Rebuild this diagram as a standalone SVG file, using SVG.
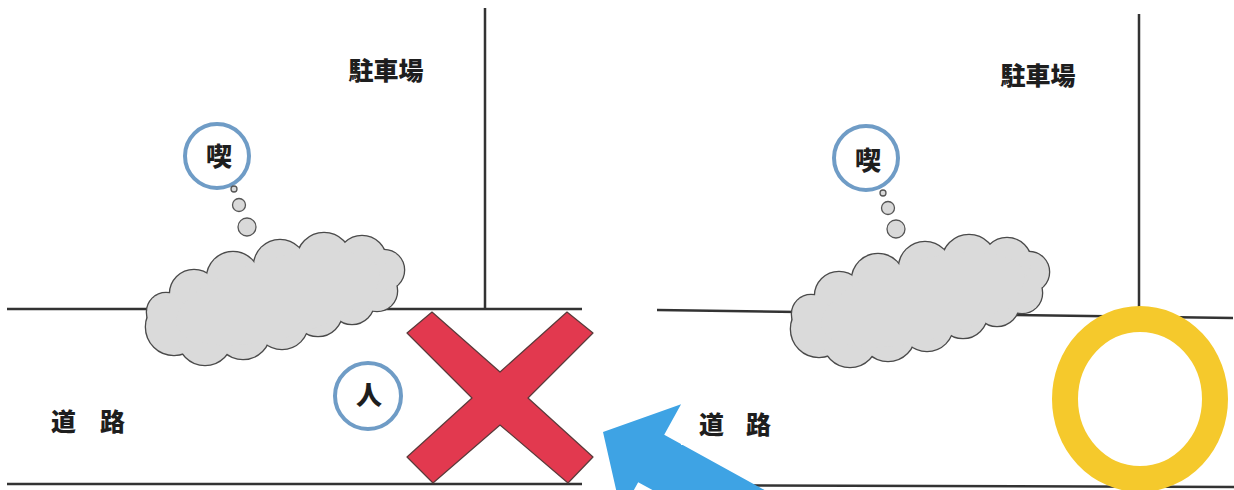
<svg xmlns="http://www.w3.org/2000/svg" xmlns:xlink="http://www.w3.org/1999/xlink" width="1234" height="490" viewBox="0 0 1234 490">
<style>
.ln{stroke:#333;stroke-width:2.5;fill:none}
.lbl{font-family:"Noto Sans CJK JP","Noto Sans CJK SC",sans-serif;font-weight:900;fill:#1e1e1e}
.ring{fill:none;stroke:#6f9cc6;stroke-width:4}
.bub{fill:#d9d9d9;stroke:#555;stroke-width:1.3}
.co{stroke:#4a4a4a;stroke-width:2.6;fill:#dadada}
.ci{fill:#dadada}
</style>
<defs>
<g id="cloudShape">
<g class="co">
<circle cx="174" cy="327" r="28"/><circle cx="205" cy="338" r="27"/><circle cx="243" cy="332" r="27"/>
<circle cx="282" cy="323" r="26"/><circle cx="318" cy="312" r="24"/><circle cx="352" cy="302" r="22"/>
<circle cx="377" cy="291" r="20"/><circle cx="384" cy="270" r="20"/><circle cx="362" cy="260" r="24"/>
<circle cx="324" cy="260" r="27"/><circle cx="280" cy="266" r="26"/><circle cx="233" cy="278" r="26"/>
<circle cx="194" cy="294" r="24"/><circle cx="166" cy="312" r="19"/>
</g>
<g class="ci">
<circle cx="174" cy="327" r="28"/><circle cx="205" cy="338" r="27"/><circle cx="243" cy="332" r="27"/>
<circle cx="282" cy="323" r="26"/><circle cx="318" cy="312" r="24"/><circle cx="352" cy="302" r="22"/>
<circle cx="377" cy="291" r="20"/><circle cx="384" cy="270" r="20"/><circle cx="362" cy="260" r="24"/>
<circle cx="324" cy="260" r="27"/><circle cx="280" cy="266" r="26"/><circle cx="233" cy="278" r="26"/>
<circle cx="194" cy="294" r="24"/><circle cx="166" cy="312" r="19"/>
<ellipse cx="278" cy="298" rx="105" ry="40" transform="rotate(-15 278 298)"/>
</g>
</g>
</defs>

<rect width="1234" height="490" fill="#fff"/>

<g id="lines">
<line class="ln" x1="7" y1="309" x2="582" y2="309"/>
<line class="ln" x1="485" y1="8" x2="485" y2="309"/>
<line class="ln" x1="7" y1="484" x2="582" y2="484"/>
<line class="ln" x1="657" y1="310" x2="1233" y2="318"/>
<line class="ln" x1="1139" y1="14" x2="1139" y2="315"/>
<line class="ln" x1="650" y1="485" x2="1234" y2="487"/>
</g>

<g id="parking-left"><text class="lbl" x="386" y="80" font-size="25" text-anchor="middle">駐車場</text></g>
<g id="parking-right"><text class="lbl" x="1038" y="85" font-size="25" text-anchor="middle">駐車場</text></g>

<g id="cloud-left"><use xlink:href="#cloudShape"/></g>
<g id="cloud-right"><use xlink:href="#cloudShape" transform="translate(645,2)"/></g>

<g id="think-left">
<circle class="ring" cx="217" cy="156" r="32"/>
<text class="lbl" x="219" y="166" font-size="26" text-anchor="middle">喫</text>
<circle class="bub" cx="234" cy="189" r="3"/>
<circle class="bub" cx="239" cy="205" r="6.5"/>
<circle class="bub" cx="247" cy="227" r="9"/>
</g>
<g id="think-right">
<circle class="ring" cx="866" cy="158" r="32"/>
<text class="lbl" x="868" y="170" font-size="26" text-anchor="middle">喫</text>
<circle class="bub" cx="883" cy="193" r="3"/>
<circle class="bub" cx="888" cy="208" r="6.5"/>
<circle class="bub" cx="896" cy="229" r="9"/>
</g>

<g id="person">
<circle class="ring" cx="368" cy="396" r="33"/>
<text class="lbl" x="369" y="405" font-size="26" text-anchor="middle">人</text>
</g>

<g id="cross">
<polygon points="407,333 432,312 500,372 567,312 593,333 528,398 593,457 568,483 500,425 433,483 407,457 472,398" fill="#e2394f" stroke="#5a3a3a" stroke-width="1.2" stroke-linejoin="round"/>
</g>

<g id="arrow" transform="translate(603,432) rotate(28.8)">
<polygon points="0,0 55,-62 55,-27 300,-27 300,27 55,27 55,62" fill="#3ea3e4"/>
</g>

<g id="road-left"><text class="lbl" x="51 100" y="431" font-size="25">道路</text></g>
<g id="road-right">
<rect x="681" y="397" width="107" height="48" fill="#fff"/>
<text class="lbl" x="699 746" y="434" font-size="25">道路</text>
</g>

<g id="ok-ring">
<ellipse cx="1140" cy="399" rx="75" ry="80" fill="none" stroke="#f5c92c" stroke-width="26"/>
</g>
</svg>
